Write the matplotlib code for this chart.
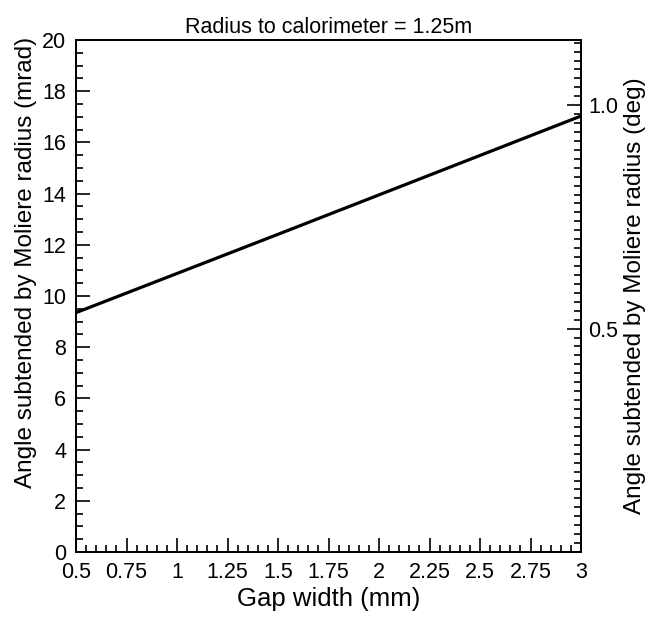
import numpy as np
import matplotlib
matplotlib.use('Agg')
import matplotlib.pyplot as plt
from matplotlib.ticker import MultipleLocator, FixedLocator

plt.rcParams['font.family'] = ['Liberation Sans', 'DejaVu Sans']

# data
gap_mm = [0.5, 1.0, 1.5, 2.0, 2.5, 3.0]
angle_mrad = [9.35, 10.88, 12.41, 13.95, 15.49, 17.03]
x_ticks = [0.5, 0.75, 1, 1.25, 1.5, 1.75, 2, 2.25, 2.5, 2.75, 3]
x_labels = ['0.5', '0.75', '1', '1.25', '1.5', '1.75', '2', '2.25', '2.5', '2.75', '3']
deg_ticks = [0.5, 1.0]
deg_labels = ['0.5', '1.0']

fig = plt.figure(figsize=(6.53, 6.18), dpi=100)
ax = fig.add_axes([76 / 653, 66 / 618, 505 / 653, 512 / 618])

ax.plot(gap_mm, angle_mrad, color='black', lw=2.3)

ax.set_xlim(0.5, 3)
ax.set_ylim(0, 20)
ax.xaxis.set_major_locator(FixedLocator(x_ticks))
ax.set_xticklabels(x_labels)
ax.xaxis.set_minor_locator(MultipleLocator(0.05))
ax.yaxis.set_major_locator(MultipleLocator(2))
ax.yaxis.set_minor_locator(MultipleLocator(0.5))

ax.tick_params(which='both', direction='in', top=False, right=False, labelsize=15.5, width=1.2)
ax.tick_params(which='major', length=10)
ax.tick_params(which='minor', length=5)
ax.tick_params(axis='x', pad=7)
ax.tick_params(axis='y', pad=7)
for s in ax.spines.values():
    s.set_linewidth(1.3)

ax.set_xlabel('Gap width (mm)', fontsize=18.5, labelpad=3)
ax.set_ylabel('Angle subtended by Moliere radius (mrad)', fontsize=17.5)
# label sits a bit above the middle in the original
ax.yaxis.set_label_coords(-0.077, 0.566)
ax.set_title('Radius to calorimeter = 1.25m', fontsize=15.5, pad=5)

# right axis in degrees
ax2 = ax.twinx()
conv = 180 / np.pi / 1000
ax2.set_ylim(0, 20 * conv)
ax2.yaxis.set_major_locator(FixedLocator(deg_ticks))
ax2.set_yticklabels(deg_labels)
ax2.yaxis.set_minor_locator(MultipleLocator(0.02))
ax2.tick_params(which='both', direction='in', labelsize=15.5, width=1.2, pad=5)
ax2.tick_params(which='major', length=10)
ax2.tick_params(which='minor', length=5)
ax2.set_ylabel('Angle subtended by Moliere radius (deg)', fontsize=17.5, labelpad=4)
for s in ax2.spines.values():
    s.set_linewidth(1.3)

fig.savefig('out.png', dpi=100)
